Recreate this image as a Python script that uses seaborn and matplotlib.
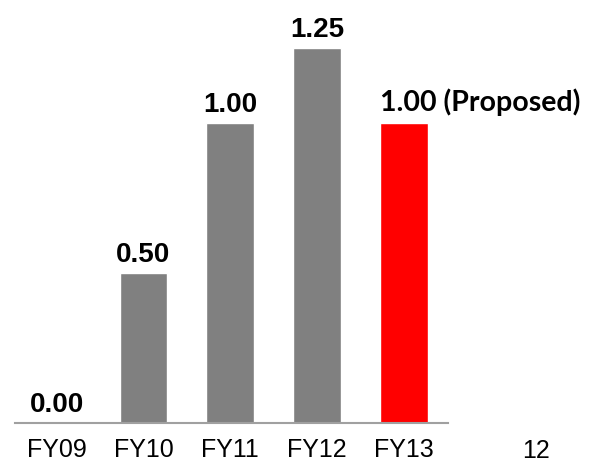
import matplotlib
matplotlib.use("Agg")
import matplotlib.pyplot as plt
import seaborn as sns
import pandas as pd

# data
years = ["FY09", "FY10", "FY11", "FY12", "FY13"]
values = [0.00, 0.50, 1.00, 1.25, 1.00]
colors = ["#808080", "#808080", "#808080", "#808080", "#ff0000"]
labels = ["0.00", "0.50", "1.00", "1.25", "1.00 (Proposed)"]
page_no = "12"

sns.set_style("white")
plt.rcParams["font.family"] = ["Liberation Sans", "DejaVu Sans"]
plt.rcParams["text.color"] = "black"
plt.rcParams["xtick.color"] = "black"

df = pd.DataFrame({"year": years, "value": values})

fig = plt.figure(figsize=(5.89, 4.66), dpi=100)
ax = fig.add_axes([15 / 589, 43 / 466, 433 / 589, 420 / 466])
sns.barplot(data=df, x="year", y="value", hue="year", palette=colors,
            legend=False, width=0.55, saturation=1, ax=ax)

ax.set_xlim(-0.48, 4.51)
ax.set_ylim(0, 1.4)
ax.set_xlabel("")
ax.set_ylabel("")
ax.set_yticks([])
for s in ["top", "left", "right"]:
    ax.spines[s].set_visible(False)
ax.spines["bottom"].set_color("#a0a0a0")
ax.spines["bottom"].set_linewidth(1.5)
ax.tick_params(axis="x", length=0, pad=11, labelsize=18, labelcolor="black")

# value labels
for i, (v, lab) in enumerate(zip(values, labels)):
    if i == len(values) - 1:
        ax.annotate(lab, (i - 0.275, v), xytext=(0, 15), textcoords="offset points",
                    ha="left", va="center", fontsize=20.5, fontweight="bold",
                    family=["Lato", "DejaVu Sans"], color="black",
                    annotation_clip=False)
    else:
        ax.annotate(lab, (i, v), xytext=(0, 13), textcoords="offset points",
                    ha="center", va="center", fontsize=20, fontweight="bold",
                    color="black", annotation_clip=False)

fig.text(536 / 589, 1 - 451 / 466, page_no, ha="center", va="center",
         fontsize=18, color="black")

fig.savefig("out.png", dpi=100)
